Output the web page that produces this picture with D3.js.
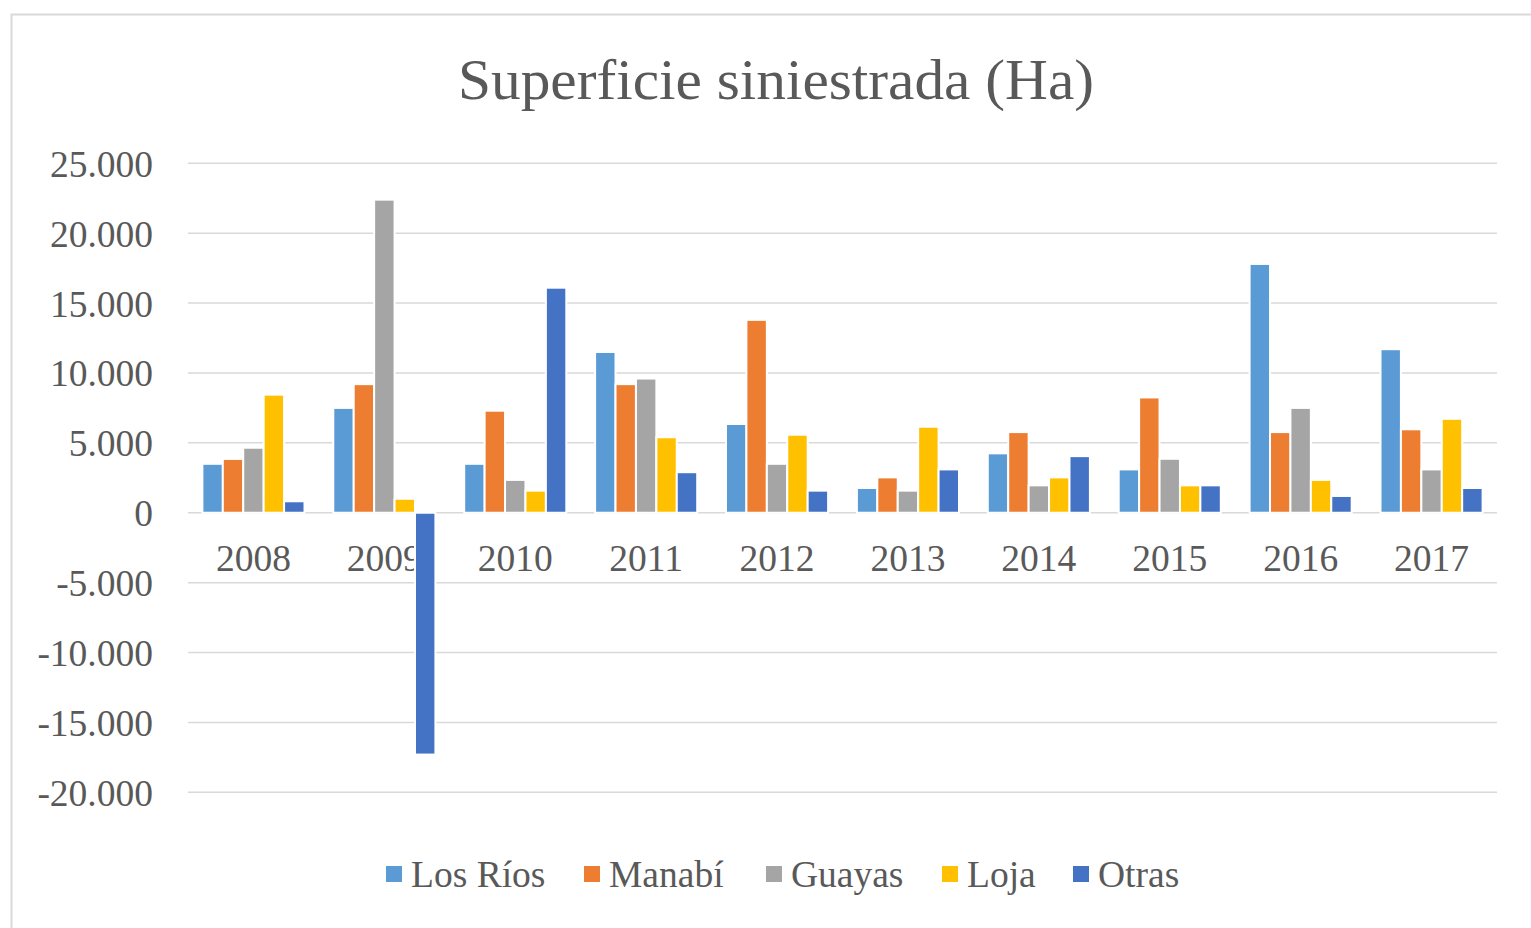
<!DOCTYPE html>
<html lang="es">
<head>
<meta charset="UTF-8">
<script src="https://d3js.org/d3.v7.min.js"></script>
<style>
  body { margin: 0; background: #fff; }
  svg text { font-family: "Liberation Serif", "Times New Roman", serif; fill: #595959; }
</style>
</head>
<body>
<svg id="chart" width="1531" height="928"></svg>
<script>
// data (ha)
const years = ["2008", "2009", "2010", "2011", "2012", "2013", "2014", "2015", "2016", "2017"];
const seriesNames = ["Los Ríos", "Manabí", "Guayas", "Loja", "Otras"];
const seriesColors = ["#5B9BD5", "#ED7D31", "#A5A5A5", "#FFC000", "#4472C4"];
const losRios = [3500, 7500, 3500, 11500, 6350, 1770, 4250, 3100, 17800, 11700];
const manabi  = [3850, 9200, 7300, 9200, 13800, 2530, 5770, 8250, 5770, 5970];
const guayas  = [4650, 22400, 2350, 9600, 3500, 1580, 1960, 3860, 7500, 3100];
const loja    = [8450, 1000, 1580, 5400, 5580, 6150, 2530, 1960, 2350, 6720];
const otras   = [820, -17300, 16100, 2900, 1580, 3100, 4050, 1960, 1200, 1770];
const yTicks = [-20000, -15000, -10000, -5000, 0, 5000, 10000, 15000, 20000, 25000];

const series = [losRios, manabi, guayas, loja, otras];

const svg = d3.select("#chart");
const margin = { left: 188, right: 1497, top: 163.3, bottom: 792.3 };

// chart frame
svg.append("path")
    .attr("d", "M11.5,940 L11.5,14.5 L1545,14.5")
    .attr("fill", "none")
    .attr("stroke", "#d9d9d9")
    .attr("stroke-width", 2);

const x0 = d3.scaleBand()
    .domain(years)
    .range([margin.left, margin.right])
    .paddingInner(0.22)
    .paddingOuter(0.11);

const x1 = d3.scaleBand()
    .domain(seriesNames)
    .range([0, x0.bandwidth()]);

const y = d3.scaleLinear()
    .domain([-20000, 25000])
    .range([margin.bottom, margin.top]);

const fmt = v => d3.format(",")(v).replace(/,/g, ".").replace("−", "-");

// gridlines
svg.append("g").selectAll("line")
    .data(yTicks)
    .join("line")
    .attr("x1", margin.left)
    .attr("x2", margin.right)
    .attr("y1", d => y(d))
    .attr("y2", d => y(d))
    .attr("stroke", "#d9d9d9")
    .attr("stroke-width", 1.5);

// y labels
svg.append("g").selectAll("text")
    .data(yTicks)
    .join("text")
    .attr("x", 153)
    .attr("y", d => y(d))
    .attr("dy", "0.36em")
    .attr("text-anchor", "end")
    .attr("font-size", 37.5)
    .text(d => fmt(d));

// category labels (drawn under the bars)
svg.append("g").selectAll("text")
    .data(years)
    .join("text")
    .attr("x", d => x0(d) + x0.bandwidth() / 2)
    .attr("y", y(0) + 58)
    .attr("text-anchor", "middle")
    .attr("font-size", 37.5)
    .text(d => d);

// bars
const rows = [];
years.forEach((yr, i) => {
    seriesNames.forEach((s, j) => rows.push({ year: yr, name: s, color: seriesColors[j], value: series[j][i] }));
});

svg.append("g").selectAll("rect")
    .data(rows)
    .join("rect")
    .attr("x", d => x0(d.year) + x1(d.name))
    .attr("width", x1.bandwidth())
    .attr("y", d => y(Math.max(0, d.value)))
    .attr("height", d => Math.abs(y(d.value) - y(0)))
    .attr("fill", d => d.color)
    .attr("stroke", "#fff")
    .attr("stroke-width", 2);

// title
svg.append("text")
    .attr("x", 776)
    .attr("y", 99)
    .attr("text-anchor", "middle")
    .attr("font-size", 58)
    .attr("textLength", 636)
    .attr("lengthAdjust", "spacingAndGlyphs")
    .text("Superficie siniestrada (Ha)");

// legend
const legendStarts = [386, 584, 766, 942, 1073];
const legend = svg.append("g").selectAll("g")
    .data(seriesNames)
    .join("g")
    .attr("transform", (d, i) => `translate(${legendStarts[i]},874)`);

legend.append("rect")
    .attr("x", 0)
    .attr("y", -8)
    .attr("width", 16)
    .attr("height", 16)
    .attr("fill", (d, i) => seriesColors[i]);

legend.append("text")
    .attr("x", 25)
    .attr("dy", "0.35em")
    .attr("font-size", 37.5)
    .text(d => d);
</script>
</body>
</html>
